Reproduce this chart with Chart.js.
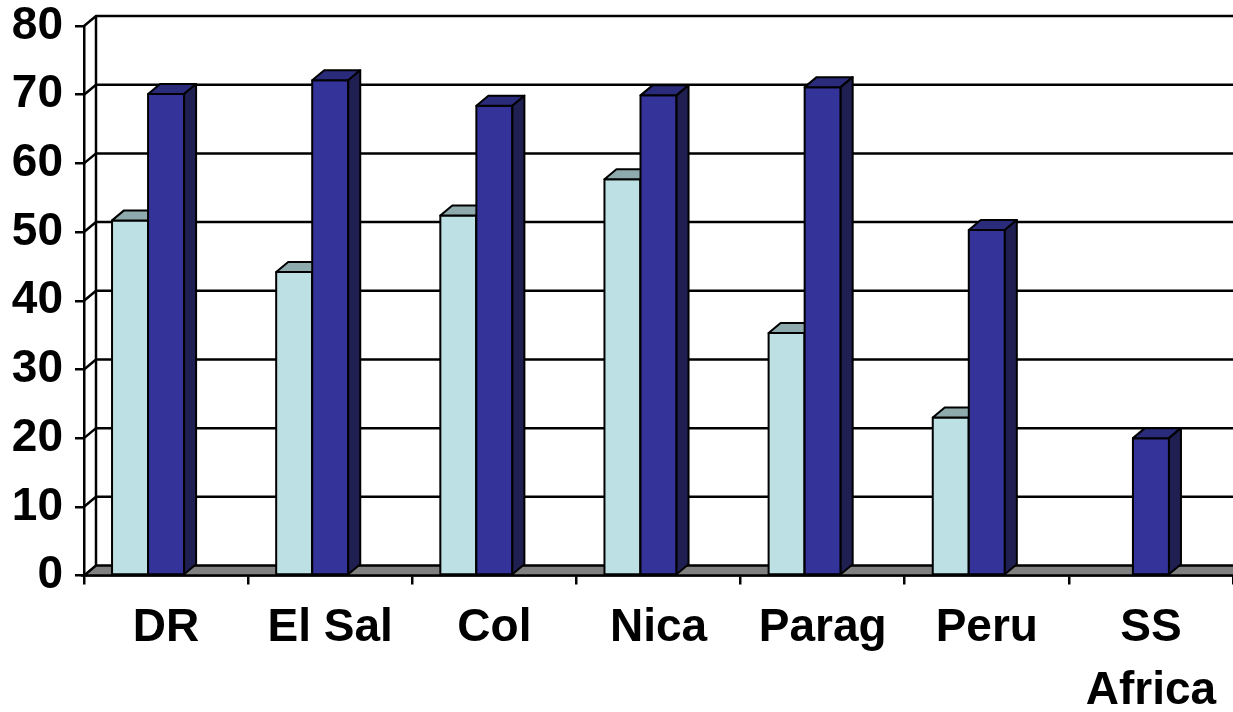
<!DOCTYPE html>
<html>
<head>
<meta charset="utf-8">
<script src="https://cdn.jsdelivr.net/npm/chart.js@4"></script>
<style>
  html, body { margin: 0; padding: 0; background: #ffffff; }
  #wrap { width: 1233px; height: 712px; position: relative; }
</style>
</head>
<body>
<div id="wrap"><canvas id="chart"></canvas></div>
<script>
// Category names, series values and value-axis ticks
const categories = ['DR', 'El Sal', 'Col', 'Nica', 'Parag', 'Peru', ['SS', 'Africa']];
const lightSeries = [51.7, 44.2, 52.4, 57.7, 35.3, 23.0, null];
const darkSeries = [70.1, 72.1, 68.4, 69.9, 71.1, 50.3, 20.0];
const valueTicks = [0, 10, 20, 30, 40, 50, 60, 70, 80];

// Pseudo-3D look: depth offset of the back plane and horizontal placement of the column pairs
const DEPTH_X = 12;
const DEPTH_Y = -10;
const PAIR_SHIFT = -18;
const LINE = '#000000';
const GRID_WIDTH = 2.5;
const EDGE_WIDTH = 2;
const FONT = '"Liberation Sans", Arial, sans-serif';

const seriesStyle = [
  { front: '#bce0e3', top: '#8eaaad', side: '#7f9a9c' },
  { front: '#333399', top: '#2b2b7c', side: '#1f1f52' }
];

function poly(ctx, pts, fill) {
  ctx.beginPath();
  ctx.moveTo(pts[0][0], pts[0][1]);
  for (let i = 1; i < pts.length; i++) ctx.lineTo(pts[i][0], pts[i][1]);
  ctx.closePath();
  ctx.fillStyle = fill;
  ctx.fill();
  ctx.stroke();
}

const columns3d = {
  id: 'columns3d',
  beforeDatasetsDraw(chart) {
    const { ctx, chartArea, scales } = chart;
    const y = scales.y;
    const left = chartArea.left;
    const right = chartArea.right;
    const y0 = y.getPixelForValue(0);
    const yTop = y.getPixelForValue(valueTicks[valueTicks.length - 1]);
    ctx.save();
    ctx.strokeStyle = LINE;
    ctx.lineWidth = GRID_WIDTH;
    // back wall grid lines with their slanted run on the side wall
    valueTicks.forEach(v => {
      if (v === 0) return;
      const py = y.getPixelForValue(v);
      ctx.beginPath();
      ctx.moveTo(left, py);
      ctx.lineTo(left + DEPTH_X, py + DEPTH_Y);
      ctx.lineTo(right + 2, py + DEPTH_Y);
      ctx.stroke();
    });
    // back corner of the walls
    ctx.beginPath();
    ctx.moveTo(left + DEPTH_X, yTop + DEPTH_Y);
    ctx.lineTo(left + DEPTH_X, y0 + DEPTH_Y);
    ctx.stroke();
    // floor
    poly(ctx, [
      [left, y0],
      [left + DEPTH_X, y0 + DEPTH_Y],
      [right + 2, y0 + DEPTH_Y],
      [right + 2, y0]
    ], '#808080');
    ctx.restore();
  },
  // columns are painted here in series order so nearer faces overlap correctly
  afterDatasetsDraw(chart) {
    const { ctx } = chart;
    ctx.save();
    ctx.translate(PAIR_SHIFT, 0);
    ctx.strokeStyle = LINE;
    ctx.lineWidth = EDGE_WIDTH;
    ctx.lineJoin = 'round';
    const nCat = chart.data.labels.length;
    for (let i = 0; i < nCat; i++) {
      chart.data.datasets.forEach((ds, d) => {
        const val = ds.data[i];
        if (val === null || val === undefined) return;
        const bar = chart.getDatasetMeta(d).data[i];
        const p = bar.getProps(['x', 'y', 'base', 'width'], true);
        const st = seriesStyle[d];
        const l = p.x - p.width / 2;
        const r = p.x + p.width / 2;
        poly(ctx, [[l, p.y], [r, p.y], [r, p.base], [l, p.base]], st.front);
        poly(ctx, [[l, p.y], [r, p.y], [r + DEPTH_X, p.y + DEPTH_Y], [l + DEPTH_X, p.y + DEPTH_Y]], st.top);
        poly(ctx, [[r, p.y], [r + DEPTH_X, p.y + DEPTH_Y], [r + DEPTH_X, p.base + DEPTH_Y], [r, p.base]], st.side);
      });
    }
    ctx.restore();
  }
};

new Chart(document.getElementById('chart'), {
  type: 'bar',
  data: {
    labels: categories,
    datasets: [
      { label: 'Series 1', data: lightSeries, backgroundColor: 'rgba(0,0,0,0)', borderWidth: 0 },
      { label: 'Series 2', data: darkSeries, backgroundColor: 'rgba(0,0,0,0)', borderWidth: 0 }
    ]
  },
  options: {
    responsive: true,
    maintainAspectRatio: false,
    animation: false,
    events: [],
    layout: { padding: { top: 26, right: 0, left: 0, bottom: 0 } },
    datasets: {
      bar: { categoryPercentage: 72 / 164, barPercentage: 1 }
    },
    plugins: {
      legend: { display: false },
      tooltip: { enabled: false }
    },
    scales: {
      x: {
        grid: { drawOnChartArea: false, drawTicks: true, tickLength: 9, color: LINE, lineWidth: GRID_WIDTH, offset: true },
        border: { display: true, color: LINE, width: GRID_WIDTH },
        ticks: {
          color: '#000000',
          font: { family: FONT, size: 46, weight: 'bold', lineHeight: 1.37 },
          padding: 12,
          maxRotation: 0,
          autoSkip: false
        },
        afterFit(scale) { scale.height = 136.5; }
      },
      y: {
        min: 0,
        max: 80,
        afterBuildTicks(scale) { scale.ticks = valueTicks.map(v => ({ value: v })); },
        grid: { drawOnChartArea: false, drawTicks: true, tickLength: 9, color: LINE, lineWidth: GRID_WIDTH },
        border: { display: true, color: LINE, width: GRID_WIDTH },
        ticks: {
          color: '#000000',
          font: { family: FONT, size: 46, weight: 'bold', lineHeight: 0.5 },
          padding: 12
        },
        afterFit(scale) { scale.width = 84; }
      }
    }
  },
  plugins: [columns3d]
});
</script>
</body>
</html>
